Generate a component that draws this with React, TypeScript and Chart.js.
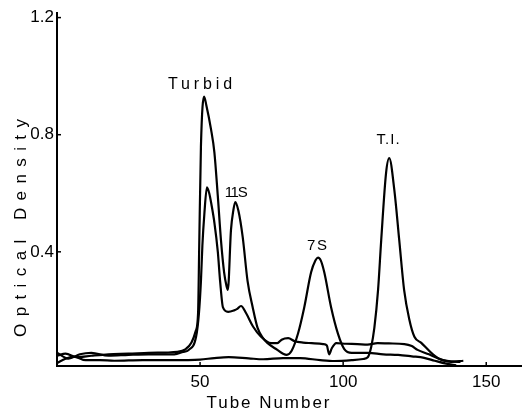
import React, { useEffect, useRef } from "react";
import { Chart, registerables } from "chart.js";

Chart.register(...registerables);

const FONT = '"Liberation Sans", Arial, sans-serif';

// Curve A: Turbid peak -> 11S -> 7S
const aX = [0, 3, 7, 12, 18, 25, 32, 38, 42, 45, 47, 48.5, 49.3, 49.7, 50.3, 51.4, 52.2, 53.8, 55, 56.2, 57.3, 58.4, 59.2, 59.7, 60.8, 61.6, 62.3, 63.4, 64.9, 66.6, 68.4, 70.1, 72, 73.6, 77, 79, 80.3, 82, 84.2, 86.4, 88.8, 90.3, 91.2, 92.2, 93.4, 95.8, 98.2, 100.4, 103, 108.7, 114, 119.2, 124, 128.3, 132, 136, 139.5];
const aY = [0.045, 0.052, 0.04, 0.045, 0.05, 0.052, 0.055, 0.056, 0.058, 0.068, 0.09, 0.13, 0.19, 0.42, 0.76, 0.93, 0.9, 0.82, 0.74, 0.59, 0.44, 0.33, 0.285, 0.27, 0.475, 0.54, 0.57, 0.54, 0.45, 0.3, 0.21, 0.14, 0.105, 0.088, 0.065, 0.052, 0.048, 0.062, 0.12, 0.21, 0.33, 0.37, 0.38, 0.37, 0.33, 0.21, 0.12, 0.068, 0.055, 0.055, 0.05, 0.048, 0.043, 0.038, 0.028, 0.018, 0.012];

// Curve B: second peak + shoulder, flat plateau
const bX = [0, 4, 8, 12, 18, 25, 32, 38, 41, 44, 46, 48.6, 49.6, 50.3, 50.8, 51.5, 52.4, 53.2, 54, 55, 56.2, 57, 58, 59.8, 61.9, 63, 64.3, 66.1, 68.5, 71.3, 74.8, 77, 78.5, 80.8, 83, 86, 89, 93, 94.3, 95.1, 96, 97.6, 101, 105, 108.5, 112, 116, 121.4, 124, 126, 130, 133, 137.8, 142];
const bY = [0.055, 0.035, 0.05, 0.055, 0.045, 0.048, 0.05, 0.05, 0.05, 0.058, 0.065, 0.11, 0.19, 0.3, 0.42, 0.53, 0.62, 0.6, 0.56, 0.5, 0.4, 0.3, 0.21, 0.195, 0.2, 0.205, 0.215, 0.19, 0.145, 0.11, 0.088, 0.088, 0.1, 0.105, 0.095, 0.09, 0.088, 0.085, 0.08, 0.05, 0.07, 0.088, 0.086, 0.085, 0.083, 0.088, 0.087, 0.085, 0.078, 0.065, 0.05, 0.037, 0.024, 0.028];

// Curve C: baseline + T.I. peak
const cX = [0, 3, 6, 10, 15, 20, 30, 40, 50, 55, 60, 67, 72, 79, 85, 92, 97, 103, 107, 108.6, 109.8, 110.9, 112.2, 113.3, 115, 116.1, 117.9, 119.6, 121.3, 123.1, 124.9, 127.3, 130.8, 134.3, 141];
const cY = [0.02, 0.035, 0.042, 0.03, 0.03, 0.028, 0.03, 0.03, 0.032, 0.037, 0.04, 0.036, 0.033, 0.037, 0.037, 0.03, 0.027, 0.03, 0.034, 0.04, 0.075, 0.14, 0.27, 0.44, 0.67, 0.72, 0.61, 0.44, 0.27, 0.17, 0.11, 0.089, 0.055, 0.031, 0.024];

const xTicks = [50, 100, 150];
const yTicks = [0.4, 0.8, 1.2];

const peakLabels = ["Turbid", "11S", "7S", "T.I."];
const peakLabelX = [50.0, 62.6, 90.9, 115.7];
const peakLabelY = [0.97, 0.602, 0.422, 0.783];

const xTitle = "Tube Number";
const yTitle = "Optical Density";

function toPoints(xs: number[], ys: number[]) {
  return xs.map((x, i) => ({ x, y: ys[i] }));
}

function drawFitted(ctx: CanvasRenderingContext2D, text: string, cx: number, cy: number, targetW: number) {
  (ctx as any).letterSpacing = "0px";
  const w = ctx.measureText(text).width;
  let ls = (targetW - w) / Math.max(1, text.length - 1);
  ls = Math.max(-1.5, ls);
  (ctx as any).letterSpacing = ls + "px";
  const total = w + ls * (text.length - 1);
  ctx.textAlign = "left";
  ctx.textBaseline = "middle";
  ctx.fillText(text, cx - total / 2, cy);
  (ctx as any).letterSpacing = "0px";
}

const annotPlugin = {
  id: "annot",
  afterDraw(chart: any) {
    const { ctx, chartArea, scales } = chart;
    const x = scales.x;
    const y = scales.y;
    ctx.save();
    ctx.fillStyle = "#000";
    ctx.strokeStyle = "#000";
    ctx.lineWidth = 1.5;
    yTicks.forEach((v) => {
      const py = y.getPixelForValue(v);
      ctx.beginPath();
      ctx.moveTo(chartArea.left, py);
      ctx.lineTo(chartArea.left + 4, py);
      ctx.stroke();
    });
    xTicks.forEach((v) => {
      const px = x.getPixelForValue(v);
      ctx.beginPath();
      ctx.moveTo(px, chartArea.bottom);
      ctx.lineTo(px, chartArea.bottom - 4);
      ctx.stroke();
    });

    const widths = [64, 23, 20, 23];
    const sizes = [16, 15, 15, 15];
    peakLabels.forEach((t, i) => {
      ctx.font = `${sizes[i]}px ${FONT}`;
      drawFitted(ctx, t, x.getPixelForValue(peakLabelX[i]), y.getPixelForValue(peakLabelY[i]), widths[i]);
    });

    ctx.font = `17px ${FONT}`;
    drawFitted(ctx, xTitle, 268, 403, 123);

    ctx.save();
    ctx.translate(21, 228);
    ctx.rotate(-Math.PI / 2);
    drawFitted(ctx, yTitle, 0, 0, 218);
    ctx.restore();

    ctx.restore();
  },
};

export default function App() {
  const ref = useRef<HTMLCanvasElement | null>(null);

  useEffect(() => {
    if (!ref.current) return;
    const lineStyle = {
      borderColor: "#000",
      backgroundColor: "#000",
      borderWidth: 2.2,
      pointRadius: 0,
      fill: false,
      cubicInterpolationMode: "monotone" as const,
    };
    const chart = new Chart(ref.current, {
      type: "line",
      data: {
        datasets: [
          { ...lineStyle, label: "A", data: toPoints(aX, aY) },
          { ...lineStyle, label: "B", data: toPoints(bX, bY) },
          { ...lineStyle, label: "C", data: toPoints(cX, cY) },
        ],
      },
      options: {
        animation: false,
        responsive: true,
        maintainAspectRatio: false,
        layout: { padding: { top: 12, left: 0, right: 0, bottom: 0 } },
        plugins: { legend: { display: false }, tooltip: { enabled: false } },
        scales: {
          x: {
            type: "linear",
            min: 0,
            max: 162.5,
            grid: { display: false, drawTicks: false },
            border: { display: true, color: "#000", width: 2 },
            afterBuildTicks: (s: any) => {
              s.ticks = xTicks.map((v) => ({ value: v }));
            },
            afterFit: (s: any) => {
              s.height = 47;
            },
            ticks: {
              color: "#000",
              padding: 6,
              font: { family: FONT, size: 17 },
              callback: (v: any) => String(v),
            },
          },
          y: {
            type: "linear",
            min: 0.01,
            max: 1.215,
            grid: { display: false, drawTicks: false },
            border: { display: true, color: "#000", width: 2 },
            afterBuildTicks: (s: any) => {
              s.ticks = yTicks.map((v) => ({ value: v }));
            },
            afterFit: (s: any) => {
              s.width = 57;
            },
            ticks: {
              color: "#000",
              padding: 3,
              font: { family: FONT, size: 17 },
              callback: (v: any) => Number(v).toFixed(1),
            },
          },
        },
      },
      plugins: [annotPlugin],
    });
    return () => chart.destroy();
  }, []);

  return (
    <div style={{ position: "fixed", left: 0, top: 0, width: 522, height: 413, background: "#fff" }}>
      <canvas ref={ref} />
    </div>
  );
}
